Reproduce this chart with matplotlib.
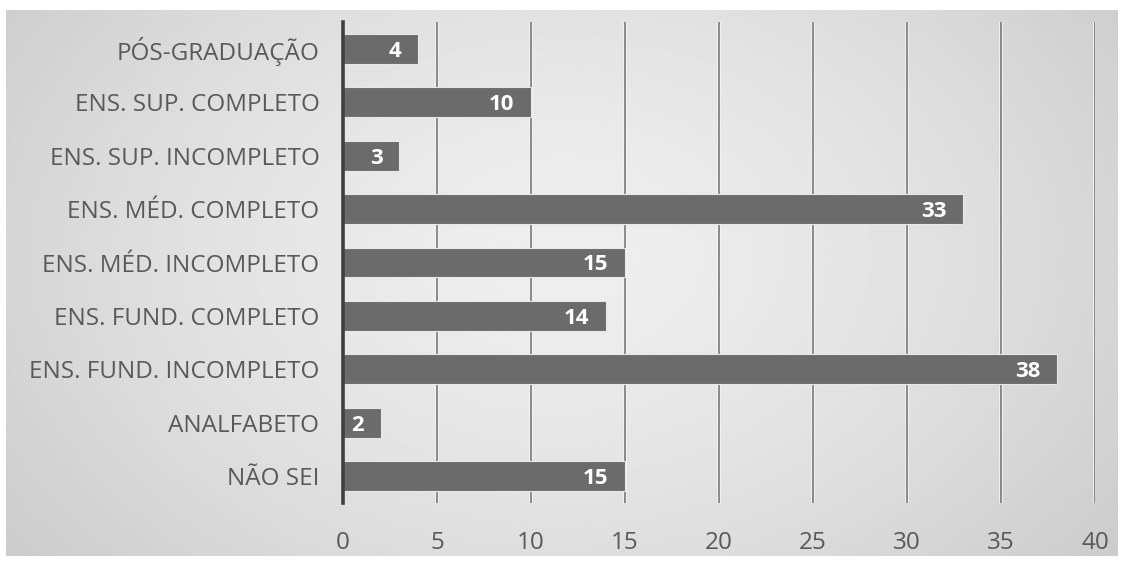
import numpy as np
import matplotlib as mpl
mpl.use('Agg')
import matplotlib.pyplot as plt

categories = ['NÃO SEI', 'ANALFABETO', 'ENS. FUND. INCOMPLETO', 'ENS. FUND. COMPLETO',
              'ENS. MÉD. INCOMPLETO', 'ENS. MÉD. COMPLETO', 'ENS. SUP. INCOMPLETO',
              'ENS. SUP. COMPLETO', 'PÓS-GRADUAÇÃO']
values = [15, 2, 38, 14, 15, 33, 3, 10, 4]
xticks = [0, 5, 10, 15, 20, 25, 30, 35, 40]

plt.rcParams['font.family'] = ['Open Sans', 'DejaVu Sans']

W, H = 1123, 563
fig = plt.figure(figsize=(W / 100, H / 100), dpi=100, facecolor='white')

# shaded backdrop, lighter toward the middle
bg = fig.add_axes([6 / W, 1 - 556 / H, 1112 / W, 546 / H])
yy, xx = np.mgrid[0:1:200j, 0:1:400j]
r = np.sqrt(((xx - 0.5) / 0.62) ** 2 + ((yy - 0.45) / 0.9) ** 2)
shade = 0.935 - 0.135 * np.clip(r, 0, 1) ** 1.5
bg.imshow(shade, cmap='gray', vmin=0, vmax=1, aspect='auto', extent=[0, 1, 0, 1])
bg.set_axis_off()

ax = fig.add_axes([343 / W, 1 - 503 / H, 752 / W, 481 / H])
ax.patch.set_alpha(0)

y = np.arange(len(categories))
ax.barh(y, values, height=0.56, color='#6b6b6b', edgecolor='#e8e8e8',
        linewidth=0.8, zorder=3)

for xv in xticks[1:]:
    ax.axvline(xv, color='#f4f4f4', lw=2.6, zorder=1)
    ax.axvline(xv, color='#8a8a8a', lw=1.4, zorder=2)

for yi, v in zip(y, values):
    ax.text(v - 0.9, yi, str(v), ha='right', va='center_baseline', color='white',
            fontsize=16, fontweight='bold', zorder=4)

ax.set_xlim(0, 40)
ax.set_ylim(-0.5, len(categories) - 0.5)
ax.set_xticks(xticks)
ax.set_yticks(y)
ax.set_yticklabels(categories)
ax.tick_params(axis='both', length=0, labelsize=17.5, labelcolor='#595959')
ax.tick_params(axis='y', pad=17)
ax.tick_params(axis='x', pad=20)

for s in ['top', 'right', 'bottom']:
    ax.spines[s].set_visible(False)
ax.spines['left'].set_color('#404040')
ax.spines['left'].set_linewidth(2.6)
ax.spines['left'].set_zorder(5)

fig.savefig('out.png', dpi=100)
